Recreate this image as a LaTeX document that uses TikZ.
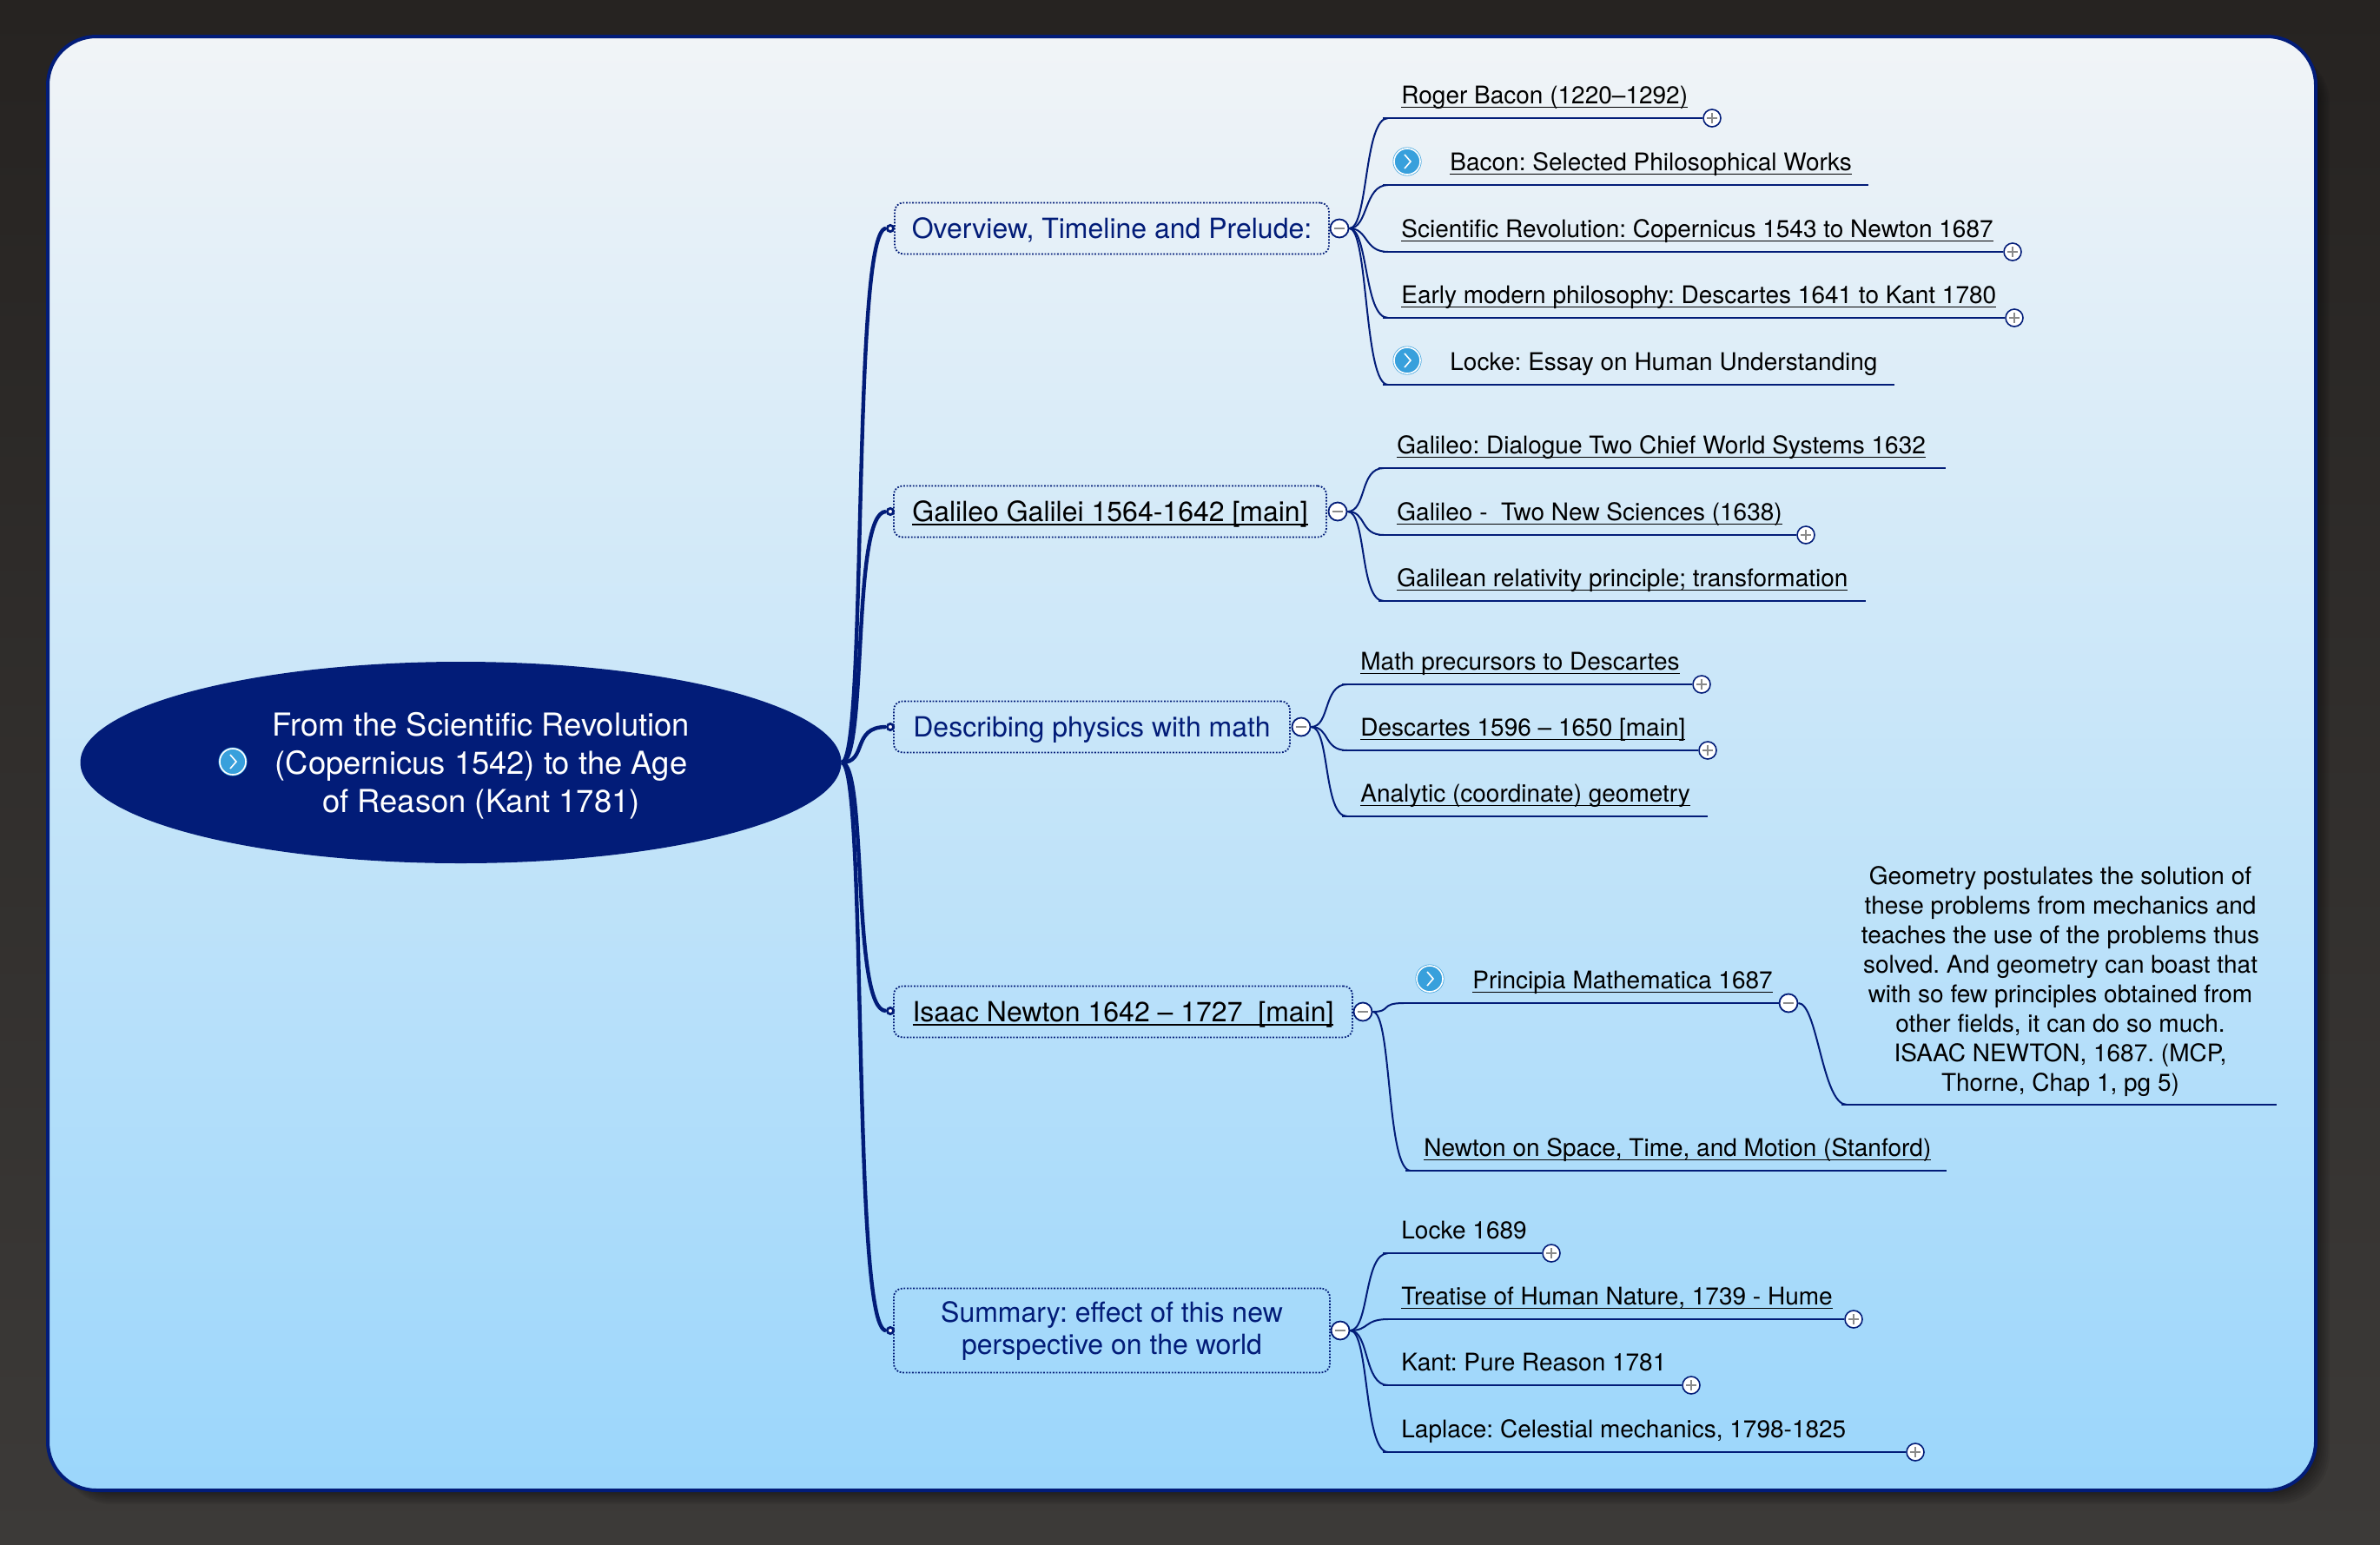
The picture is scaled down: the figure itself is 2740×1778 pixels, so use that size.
\documentclass[tikz,border=0pt]{standalone}
\usepackage{fontspec}
\setmainfont{TeX Gyre Heros}
\usetikzlibrary{shapes.geometric}
\definecolor{mmNavy}{HTML}{021C78}
\definecolor{mmDarkTop}{HTML}{262321}
\definecolor{mmDarkBot}{HTML}{3C3A38}
\definecolor{mmPanelTop}{HTML}{F1F4F7}
\definecolor{mmPanelBot}{HTML}{9BD6FB}
\definecolor{mmIcon}{HTML}{38A0DC}
\definecolor{mmMinus}{HTML}{8A8A8A}
\newcommand{\lnk}[1]{\leavevmode\setbox0\hbox{#1}\rlap{\rule[-2.3pt]{\wd0}{0.7pt}}\box0}
\frenchspacing
\tikzset{
  rootbox/.style={ellipse,inner sep=0pt,minimum width=438pt,minimum height=116pt,
    fill=mmNavy,text=white},
  roottext/.style={align=center,inner sep=0pt,text=white,
    font=\fontsize{18.2}{22}\selectfont},
  bbox/.style={rectangle,rounded corners=5pt,inner sep=0pt,align=center,
    draw=mmNavy,line width=0.9pt,dash pattern=on 0.9pt off 0.9pt,
    text height=13pt,text depth=2pt,
    text=mmNavy,font=\fontsize{16}{18.5}\selectfont},
  lnkbox/.style={bbox,text=black},
  leaf/.style={anchor=base west,inner sep=0pt,text=black,yshift=-0.25pt,
    font=\fontsize{14}{17}\selectfont},
  quotebox/.style={align=center,inner sep=0pt,text=black,
    font=\fontsize{14}{17}\selectfont},
  dotn/.style={circle,inner sep=0pt,minimum size=3.6pt,fill=white,
    draw=mmNavy,line width=1.4pt},
  foldm/.style={circle,inner sep=0pt,minimum size=10.5pt,fill=white,
    draw=mmNavy,line width=0.9pt,
    path picture={\draw[mmMinus,line width=1pt]
      ([xshift=-3.2pt]path picture bounding box.center) --
      ([xshift=3.2pt]path picture bounding box.center);}},
  foldp/.style={circle,inner sep=0pt,minimum size=10pt,fill=white,
    draw=mmNavy,line width=0.8pt,
    path picture={\draw[mmMinus,line width=0.8pt]
      ([xshift=-3pt]path picture bounding box.center) --
      ([xshift=3pt]path picture bounding box.center)
      ([yshift=-3pt]path picture bounding box.center) --
      ([yshift=3pt]path picture bounding box.center);}},
  iconb/.style={circle,inner sep=0pt,minimum size=15pt,fill=mmIcon,
    draw=mmIcon,line width=0.35pt,double=white,double distance=0.8pt,
    path picture={\draw[white,line width=0.8pt]
      ([shift={(-1.5pt,4pt)}]path picture bounding box.center) --
      ([shift={(2pt,0pt)}]path picture bounding box.center) --
      ([shift={(-1.5pt,-4pt)}]path picture bounding box.center);}},
  arrt/.style={draw=mmNavy,line width=2.2pt},
  arrb/.style={draw=mmNavy,line width=1pt},
  ltail/.style={draw=mmNavy,line width=1.1pt},
}

\begin{document}
\begin{tikzpicture}[x=0.5pt,y=-0.5pt]

  \useasboundingbox (0,0) rectangle (2740,1778);
  \shade[top color=mmDarkTop,bottom color=mmDarkBot] (0,0) rectangle (2740,1778);
  \foreach \s in {2,4,...,18}
    \fill[black,opacity=0.06,rounded corners=29pt] (70,60) rectangle ({2664+\s},{1714+\s});
  \shadedraw[top color=mmPanelTop,bottom color=mmPanelBot,draw=mmNavy,line width=2pt,
    rounded corners=28pt] (55,42) rectangle (2666,1716);

  % root
  \node[rootbox] (root) at (530.5,878) {};
  \node[roottext] (rootT) at (554,882) {From the Scientific Revolution\\(Copernicus 1542) to the Age\\of Reason (Kant 1781)};
  \node[iconb] (rootI) at (268,877) {};

  % branches
  \node[bbox,minimum width=250pt,minimum height=29.5pt] (ov) at (1280,263) {Overview, Timeline and Prelude:};
  \node[dotn] (ovD) at (1025,263) {};
  \node[foldm] (ovF) at (1542,263) {};

  \node[lnkbox,minimum width=249pt,minimum height=29.5pt] (gal) at (1278,589) {\lnk{Galileo Galilei 1564-1642 [main]}};
  \node[dotn] (galD) at (1025,589) {};
  \node[foldm] (galF) at (1540,589) {};

  \node[bbox,minimum width=228pt,minimum height=29.5pt] (desc) at (1257,837) {Describing physics with math};
  \node[dotn] (descD) at (1025,837) {};
  \node[foldm] (descF) at (1498,837) {};

  \node[lnkbox,minimum width=264pt,minimum height=29.5pt] (newt) at (1293,1165) {\lnk{Isaac Newton 1642 – 1727\ \ [main]}};
  \node[dotn] (newtD) at (1025,1164) {};
  \node[foldm] (newtF) at (1569,1165) {};

  \node[bbox,minimum width=251pt,minimum height=48.5pt,text height=29.5pt,text depth=2.5pt] (summ) at (1280,1532) {Summary: effect of this new\\perspective on the world};
  \node[dotn] (summD) at (1025,1532) {};
  \node[foldm] (summF) at (1543,1532) {};

  % overview leaves
  \node[leaf] (roger) at (1613,119) {\lnk{Roger Bacon (1220–1292)}};
  \coordinate (rogerS) at (1592,136);
  \node[foldp] (rogerE) at (1971,136) {};
  \node[iconb] (baconI) at (1620,186) {};
  \node[leaf] (bacon) at (1669,196) {\lnk{Bacon: Selected Philosophical Works}};
  \coordinate (baconS) at (1592,213);
  \coordinate (baconE) at (2151,213);
  \node[leaf] (sci) at (1613,273) {\lnk{Scientific Revolution: Copernicus 1543 to Newton 1687}};
  \coordinate (sciS) at (1592,290);
  \node[foldp] (sciE) at (2317,290) {};
  \node[leaf] (early) at (1613,349) {\lnk{Early modern philosophy: Descartes 1641 to Kant 1780}};
  \coordinate (earlyS) at (1592,366);
  \node[foldp] (earlyE) at (2319,366) {};
  \node[iconb] (lockeI) at (1620,415) {};
  \node[leaf] (locke) at (1669,426) {Locke: Essay on Human Understanding};
  \coordinate (lockeS) at (1592,443);
  \coordinate (lockeE) at (2181,443);

  % galileo leaves
  \node[leaf] (dial) at (1608,522) {\lnk{Galileo: Dialogue Two Chief World Systems 1632}};
  \coordinate (dialS) at (1587,539);
  \coordinate (dialE) at (2240,539);
  \node[leaf] (twon) at (1608,599) {\lnk{Galileo -\ \ Two New Sciences (1638)}};
  \coordinate (twonS) at (1587,616);
  \node[foldp] (twonE) at (2079,616) {};
  \node[leaf] (rela) at (1608,675) {\lnk{Galilean relativity principle; transformation}};
  \coordinate (relaS) at (1587,692);
  \coordinate (relaE) at (2148,692);

  % math leaves
  \node[leaf] (prec) at (1566,771) {\lnk{Math precursors to Descartes}};
  \coordinate (precS) at (1545,788);
  \node[foldp] (precE) at (1959,788) {};
  \node[leaf] (desca) at (1566,847) {\lnk{Descartes 1596 – 1650 [main]}};
  \coordinate (descaS) at (1545,864);
  \node[foldp] (descaE) at (1966,864) {};
  \node[leaf] (anal) at (1566,923) {\lnk{Analytic (coordinate) geometry}};
  \coordinate (analS) at (1545,940);
  \coordinate (analE) at (1966,940);

  % newton leaves
  \node[iconb] (prinI) at (1646,1127) {};
  \node[leaf] (prin) at (1695,1138) {\lnk{Principia Mathematica 1687}};
  \coordinate (prinS) at (1610,1155);
  \node[foldm] (prinE) at (2059,1155) {};
  \node[quotebox] (geom) at (2372,1130) {Geometry postulates the solution of\\these problems from mechanics and\\teaches the use of the problems thus\\solved. And geometry can boast that\\with so few principles obtained from\\other fields, it can do so much.\\ISAAC NEWTON, 1687. (MCP,\\Thorne, Chap 1, pg 5)};
  \coordinate (geomS) at (2120,1272);
  \coordinate (geomE) at (2621,1272);
  \node[leaf] (spac) at (1639,1331) {\lnk{Newton on Space, Time, and Motion (Stanford)}};
  \coordinate (spacS) at (1618,1348);
  \coordinate (spacE) at (2241,1348);

  % summary leaves
  \node[leaf] (lock) at (1613,1426) {Locke 1689};
  \coordinate (lockS) at (1592,1443);
  \node[foldp] (lockE) at (1786,1443) {};
  \node[leaf] (trea) at (1613,1502) {\lnk{Treatise of Human Nature, 1739 - Hume}};
  \coordinate (treaS) at (1592,1519);
  \node[foldp] (treaE) at (2134,1519) {};
  \node[leaf] (kant) at (1613,1578) {Kant: Pure Reason 1781};
  \coordinate (kantS) at (1592,1595);
  \node[foldp] (kantE) at (1947,1595) {};
  \node[leaf] (lapl) at (1613,1655) {Laplace: Celestial mechanics, 1798-1825};
  \coordinate (laplS) at (1592,1672);
  \node[foldp] (laplE) at (2205,1672) {};

  % connectors
  \foreach \to in {ovD,galD,descD,newtD,summD}
    \draw[arrt] (root.east) .. controls +(30,0) and +(-40,0) .. (\to.west);

  \foreach \from/\to in {ovF/roger,ovF/bacon,ovF/sci,ovF/early,ovF/locke,
    galF/dial,galF/twon,galF/rela,descF/prec,descF/desca,descF/anal,
    newtF/prin,newtF/spac,prinE/geom,
    summF/lock,summF/trea,summF/kant,summF/lapl}
    \draw[arrb] (\from.east) .. controls +(22,0) and +(-28,0) .. ([xshift=3pt]\to S);

  \foreach \from/\to in {rogerS/rogerE.west,baconS/baconE,sciS/sciE.west,earlyS/earlyE.west,
    lockeS/lockeE,dialS/dialE,twonS/twonE.west,relaS/relaE,precS/precE.west,descaS/descaE.west,
    analS/analE,prinS/prinE.west,geomS/geomE,spacS/spacE,lockS/lockE.west,treaS/treaE.west,
    kantS/kantE.west,laplS/laplE.west}
    \draw[ltail] (\from) -- (\to);

\end{tikzpicture}
\end{document}
